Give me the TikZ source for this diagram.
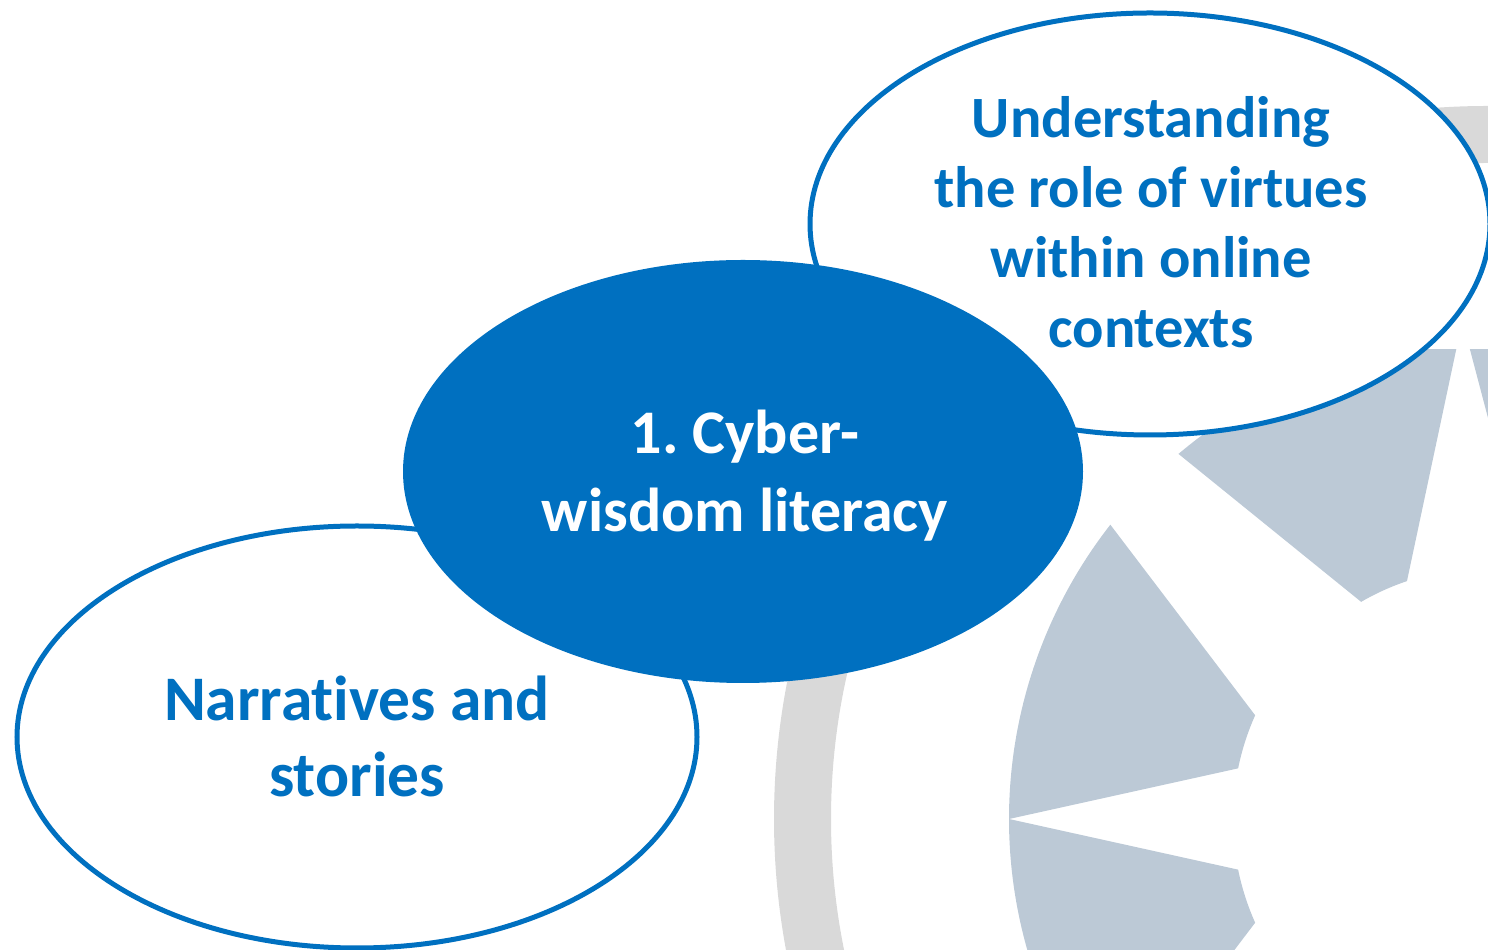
\documentclass[tikz,border=0pt]{standalone}
\usepackage{fontspec}
\setmainfont{Carlito}[RawFeature={-liga}]
\usetikzlibrary{shapes.geometric}
\definecolor{mainblue}{RGB}{0,112,192}
\definecolor{gearblue}{RGB}{188,201,214}
\definecolor{ringgray}{RGB}{217,217,217}
\tikzset{
  bubble/.style={ellipse, draw=mainblue, line width=5pt, fill=white,
    minimum width=680pt, minimum height=422pt, inner sep=0pt},
  corebubble/.style={ellipse, fill=mainblue, draw=none,
    minimum width=680pt, minimum height=423pt, inner sep=0pt},
  gearpart/.style={fill=gearblue},
  bluetext/.style={anchor=base, text=mainblue, inner sep=0pt, font=\bfseries\fontsize{#1}{#1}\selectfont},
  whitetext/.style={anchor=base, text=white, inner sep=0pt, font=\bfseries\fontsize{#1}{#1}\selectfont}
}
\begin{document}
\frenchspacing
\begin{tikzpicture}[x=1pt,y=1pt]
\useasboundingbox (0,0) rectangle (1488,950);
\clip (0,0) rectangle (1488,950);
\coordinate (gc) at (1487,131);
% gray ring
\fill[ringgray, even odd rule] (gc) circle[radius=713] (gc) circle[radius=656];
% gear sectors
\fill[gearpart] ([shift={(gc)}]142:478) arc[start angle=142, end angle=180, radius=478]
  -- ([shift={(gc)}]168.5:254) arc[start angle=168.5, end angle=155.9, radius=254] -- cycle;
\fill[gearpart] ([shift={(gc)}]180:478) arc[start angle=180, end angle=218, radius=478]
  -- ([shift={(gc)}]204.1:254) arc[start angle=204.1, end angle=191.5, radius=254] -- cycle;
\begin{scope}
  \clip (0,0) rectangle (1488,600);
  \fill[gearpart] ([shift={(gc)}]93.5:478) arc[start angle=93.5, end angle=130.2, radius=478]
    -- ([shift={(gc)}]120.1:251) arc[start angle=120.1, end angle=108.6, radius=251] -- cycle;
  \fill[gearpart] ([shift={(gc)}]92.3:478) arc[start angle=92.3, end angle=55, radius=478]
    -- ([shift={(gc)}]68:254) arc[start angle=68, end angle=80.8, radius=254] -- cycle;
\end{scope}
% bubbles
\node[bubble] (narr) at (357,213) {};
\node[bubble] (virt) at (1150,726) {};
\node[corebubble] (core) at (743,478.5) {};
% texts
\node[bluetext=63.5] (narr1) at (357,229) {Narratives and};
\node[bluetext=63.5] (narr2) at (357,153) {stories};
\node[whitetext=62] (core1) at (745,496) {1. Cyber-};
\node[whitetext=62] (core2) at (745,418) {wisdom literacy};
\node[bluetext=58.5] (virt1) at (1151,812) {Understanding};
\node[bluetext=58.5] (virt2) at (1151,742) {the role of virtues};
\node[bluetext=58.5] (virt3) at (1151,672) {within online};
\node[bluetext=58.5] (virt4) at (1151,602) {contexts};
\end{tikzpicture}
\end{document}
